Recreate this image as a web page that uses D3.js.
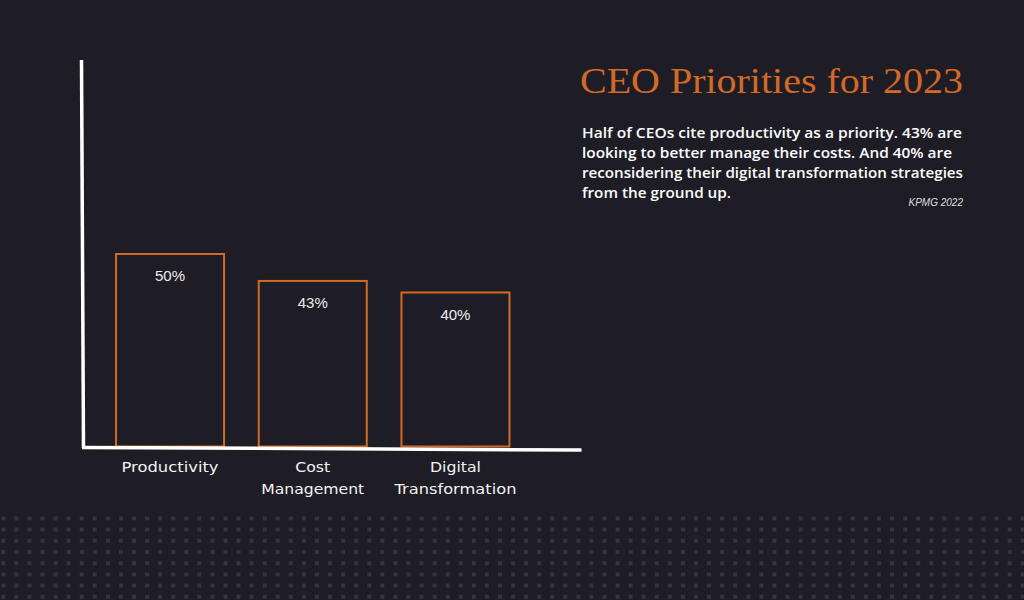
<!DOCTYPE html>
<html>
<head>
<meta charset="utf-8">
<script src="https://cdn.jsdelivr.net/npm/d3@7"></script>
<style>
  html, body { margin: 0; padding: 0; background: #1e1d26; }
  svg { display: block; }
</style>
</head>
<body>
<svg id="chart" width="1024" height="600"></svg>
<script>
// ---- data ----
const categories = ["Productivity", "Cost Management", "Digital Transformation"];
const categoryLines = [["Productivity"], ["Cost", "Management"], ["Digital", "Transformation"]];
const values = [50, 43, 40];
const valueLabels = ["50%", "43%", "40%"];
const titleText = "CEO Priorities for 2023";
const bodyLines = [
  "Half of CEOs cite productivity as a priority. 43% are",
  "looking to better manage their costs. And 40% are",
  "reconsidering their digital transformation strategies",
  "from the ground up."
];
const sourceText = "KPMG 2022";

// ---- styles ----
const BG = "#1e1d26";
const ORANGE = "#d26a27";
const W = 1024, H = 600;

const svg = d3.select("#chart");
svg.append("rect").attr("width", W).attr("height", H).attr("fill", BG);

// dotted decoration
const dotCols = d3.range(79);
const dotRows = d3.range(8);
const dotsG = svg.append("g");
dotRows.forEach(r => {
  dotsG.selectAll(null).data(dotCols).enter().append("rect")
    .attr("x", c => 3.3 + c * 13.07 - 2)
    .attr("y", 518.4 + r * 11.2 - 2)
    .attr("width", 4).attr("height", 4)
    .attr("fill", "#34343e");
});

// scales
const x = d3.scaleBand().domain(categories).range([98.9, 526.6]).paddingInner(0.243).paddingOuter(0.12);
const baseY = 446.5;
const y = d3.scaleLinear().domain([0, 50]).range([baseY, baseY - 192.5]);

// bars
svg.selectAll(".bar").data(values).enter().append("rect")
  .attr("class", "bar")
  .attr("x", (d, i) => x(categories[i]))
  .attr("y", d => y(d))
  .attr("width", x.bandwidth())
  .attr("height", d => baseY - y(d))
  .attr("fill", "none")
  .attr("stroke", ORANGE)
  .attr("stroke-width", 2);

// value labels
svg.selectAll(".val").data(values).enter().append("text")
  .attr("x", (d, i) => x(categories[i]) + x.bandwidth() / 2)
  .attr("y", d => y(d) + 27)
  .attr("text-anchor", "middle")
  .attr("font-family", "'Liberation Sans', Arial, sans-serif")
  .attr("font-size", 15)
  .attr("fill", "#ececec")
  .text((d, i) => valueLabels[i]);

// axes (hand-drawn look: white thick lines)
svg.append("line").attr("x1", 81.5).attr("y1", 60).attr("x2", 83.5).attr("y2", 448)
  .attr("stroke", "#ffffff").attr("stroke-width", 3.5);
svg.append("line").attr("x1", 82).attr("y1", 447.5).attr("x2", 581.5).attr("y2", 450)
  .attr("stroke", "#ffffff").attr("stroke-width", 3.5);

// category labels
const labelWidths = [[97], [35, 103], [51, 122]];
categoryLines.forEach((lines, i) => {
  const cx = x(categories[i]) + x.bandwidth() / 2;
  const t = svg.append("text")
    .attr("text-anchor", "middle")
    .attr("font-family", "'DejaVu Sans', 'Open Sans', sans-serif")
    .attr("font-size", 14)
    .attr("fill", "#f2f2f2");
  lines.forEach((ln, j) => {
    t.append("tspan").attr("x", cx).attr("y", 471.5 + j * 22)
      .attr("textLength", labelWidths[i][j]).attr("lengthAdjust", "spacingAndGlyphs")
      .text(ln);
  });
});

// title
svg.append("text")
  .attr("x", 580).attr("y", 93)
  .attr("font-family", "'Liberation Serif', 'DejaVu Serif', serif")
  .attr("font-size", 36)
  .attr("fill", ORANGE)
  .attr("textLength", 383)
  .attr("lengthAdjust", "spacingAndGlyphs")
  .text(titleText);

// body text
const bodyWidths = [380, 370, 381, 149];
bodyLines.forEach((ln, i) => {
  svg.append("text")
    .attr("x", 582).attr("y", 138 + i * 20)
    .attr("font-family", "'Open Sans', 'Noto Sans', sans-serif")
    .attr("font-weight", 600)
    .attr("font-size", 14)
    .attr("fill", "#ffffff")
    .attr("textLength", bodyWidths[i]).attr("lengthAdjust", "spacingAndGlyphs")
    .text(ln);
});

// source
svg.append("text")
  .attr("x", 963).attr("y", 206)
  .attr("text-anchor", "end")
  .attr("font-family", "'Liberation Sans', Arial, sans-serif")
  .attr("font-style", "italic")
  .attr("font-size", 10)
  .attr("fill", "#dddddd")
  .text(sourceText);
</script>
</body>
</html>
